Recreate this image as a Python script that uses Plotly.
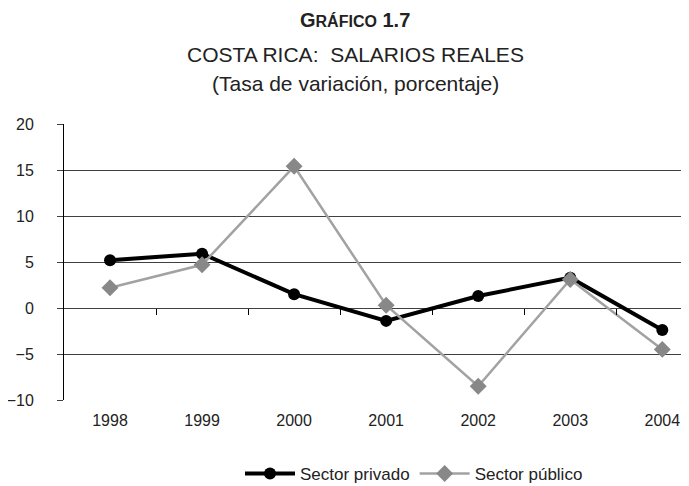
import plotly.graph_objects as go

years = ["1998", "1999", "2000", "2001", "2002", "2003", "2004"]
privado = [5.2, 5.9, 1.5, -1.4, 1.3, 3.3, -2.4]
publico = [2.2, 4.7, 15.4, 0.3, -8.5, 3.1, -4.5]
y_ticks = [-10, -5, 0, 5, 10, 15, 20]

xpos = list(range(len(years)))
FONT = "Liberation Sans"
YMIN, YMAX = -10, 20

fig = go.Figure()
fig.add_trace(go.Scatter(
    x=xpos, y=privado, name="Sector privado", mode="lines+markers",
    line=dict(color="#000000", width=4),
    marker=dict(symbol="circle", size=12, color="#000000"),
))
fig.add_trace(go.Scatter(
    x=xpos, y=publico, name="Sector público", mode="lines+markers",
    line=dict(color="#a2a2a2", width=2.5),
    marker=dict(symbol="diamond", size=13, color="#888888"),
))
# invisible trace on overlay axis for zero-line ticks
fig.add_trace(go.Scatter(x=[0], y=[0], xaxis="x2", showlegend=False,
                         mode="markers", marker=dict(opacity=0), hoverinfo="skip"))

xr = [-0.5, 6.29]
fig.update_layout(
    width=681, height=478,
    margin=dict(l=56, r=0, t=116, b=86, autoexpand=False),
    paper_bgcolor="white", plot_bgcolor="white",
    font=dict(family=FONT, color="#222222", size=16),
    xaxis=dict(range=xr, tickvals=xpos, ticktext=years, showgrid=False,
               zeroline=False, showline=False, ticks="", ticklabelstandoff=9,
               tickfont=dict(size=16, family=FONT)),
    xaxis2=dict(range=xr, overlaying="x", anchor="free",
                position=(0 - YMIN) / (YMAX - YMIN),
                tickvals=[0.5, 1.5, 2.5, 3.5, 4.5, 5.5], ticks="outside",
                ticklen=6, tickcolor="#000", tickwidth=1, showticklabels=False,
                showgrid=False, zeroline=False, showline=False),
    yaxis=dict(range=[YMIN, YMAX], tickvals=y_ticks, showgrid=True,
               gridcolor="#404040", gridwidth=1, zeroline=False,
               showline=True, linecolor="#000000", linewidth=1,
               ticks="outside", ticklen=6, tickcolor="#404040",
               ticklabelstandoff=20, tickfont=dict(size=16, family=FONT)),
    legend=dict(orientation="h", x=0.2816, xanchor="left", y=-0.268,
                yanchor="middle", font=dict(size=17, family=FONT),
                itemwidth=50, tracegroupgap=0, bgcolor="rgba(0,0,0,0)"),
    showlegend=True,
)

TX = 0.4656
fig.add_annotation(text="<b>G<span style='font-size:16px'>RÁFICO</span> 1.7</b>",
                   xref="paper", yref="paper", x=TX, y=1.0, yanchor="middle",
                   yshift=104, showarrow=False,
                   font=dict(size=20, family=FONT, color="#222"))
fig.add_annotation(text="COSTA RICA:  SALARIOS REALES",
                   xref="paper", yref="paper", x=TX, y=1.0, yanchor="middle",
                   yshift=70, showarrow=False,
                   font=dict(size=21, family=FONT, color="#222"))
fig.add_annotation(text="(Tasa de variación, porcentaje)",
                   xref="paper", yref="paper", x=TX, y=1.0, yanchor="middle",
                   yshift=41, showarrow=False,
                   font=dict(size=21, family=FONT, color="#222"))

fig.write_html("out.html")
